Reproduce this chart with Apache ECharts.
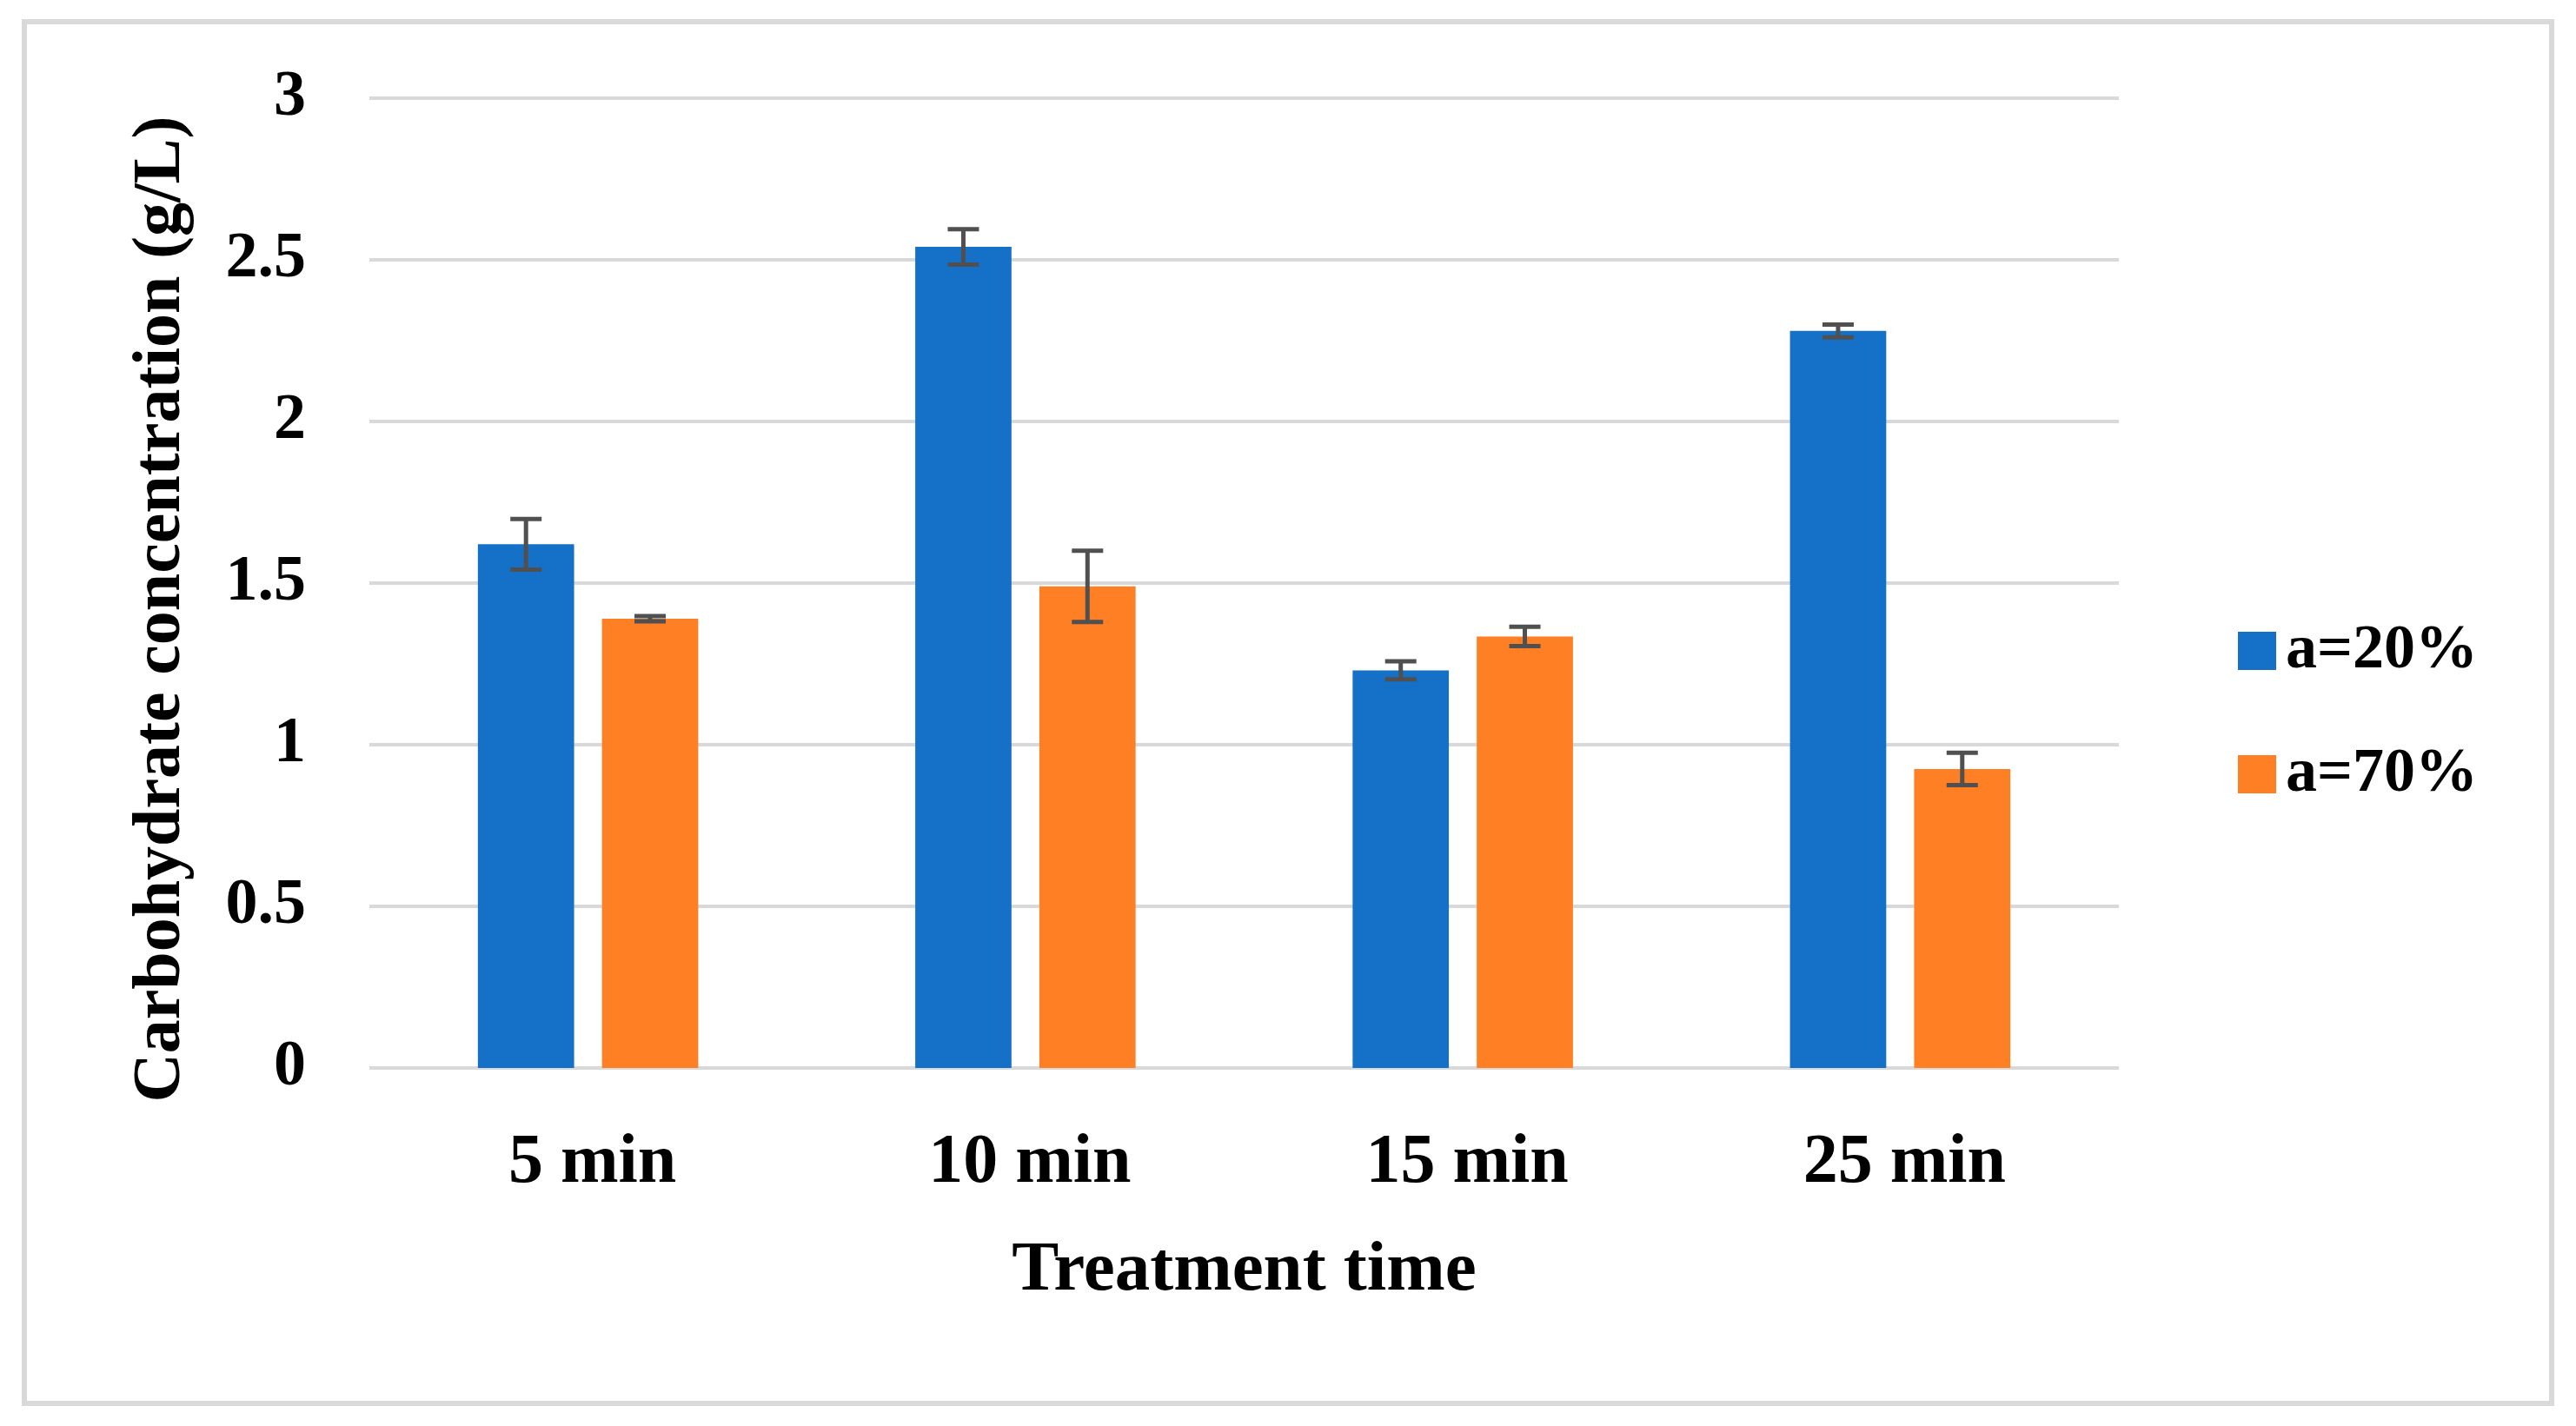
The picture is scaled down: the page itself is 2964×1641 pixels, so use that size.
<!DOCTYPE html>
<html>
<head>
<meta charset="utf-8">
<script src="https://cdn.jsdelivr.net/npm/echarts@6/dist/echarts.min.js"></script>
<style>
html,body{margin:0;padding:0;background:#fff;}
#chart{width:2964px;height:1641px;}
</style>
</head>
<body>
<div id="chart"></div>
<script>
var categories = ['5 min', '10 min', '15 min', '25 min'];
var seriesNames = ['a=20%', 'a=70%'];
var values20 = [1.62, 2.54, 1.23, 2.28];
var values70 = [1.39, 1.49, 1.335, 0.925];
var err20 = [0.078, 0.055, 0.028, 0.02];
var err70 = [0.008, 0.11, 0.03, 0.05];
var yTicks = [0, 0.5, 1, 1.5, 2, 2.5, 3];

var FONT = '"Liberation Serif", "DejaVu Serif", serif';
var BAR_W = 0.22, BAR_GAP = 0.29;
var colors = ['#1570C8', '#FE7F24'];

function errorSeries(vals, errs, idx) {
  var data = vals.map(function (v, i) { return [i, v, errs[i]]; });
  return {
    type: 'custom',
    name: seriesNames[idx] + ' error',
    z: 10,
    silent: true,
    data: data,
    renderItem: function (params, api) {
      var i = api.value(0), v = api.value(1), e = api.value(2);
      var band = api.size([1, 0])[0];
      var offset = band * BAR_W * (1 + BAR_GAP) / 2 * (idx === 0 ? -1 : 1);
      var top = api.coord([i, v + e]);
      var bot = api.coord([i, v - e]);
      var x = top[0] + offset;
      var hw = 18;
      var style = { stroke: '#505050', lineWidth: 5, fill: null };
      return {
        type: 'group',
        children: [
          { type: 'line', shape: { x1: x, y1: top[1], x2: x, y2: bot[1] }, style: style },
          { type: 'line', shape: { x1: x - hw, y1: top[1], x2: x + hw, y2: top[1] }, style: style },
          { type: 'line', shape: { x1: x - hw, y1: bot[1], x2: x + hw, y2: bot[1] }, style: style }
        ]
      };
    }
  };
}

var chart = echarts.init(document.getElementById('chart'));
chart.setOption({
  backgroundColor: '#fff',
  animation: false,
  graphic: [{
    type: 'rect',
    left: 25, top: 22,
    shape: { width: 2908, height: 1590 },
    style: { fill: 'none', stroke: '#d9d9d9', lineWidth: 6 },
    silent: true
  }],
  grid: { left: 425, right: 526, top: 113, bottom: 412 },
  legend: {
    orient: 'vertical',
    left: 2570,
    top: 708,
    itemWidth: 44,
    itemHeight: 44,
    itemGap: 70,
    icon: 'rect',
    data: seriesNames,
    textStyle: { fontFamily: FONT, fontWeight: 'bold', fontSize: 72, color: '#000', lineHeight: 72, padding: [0, 0, 0, 6] }
  },
  xAxis: {
    type: 'category',
    data: categories,
    name: 'Treatment time',
    nameLocation: 'middle',
    nameGap: 194,
    nameTextStyle: { fontFamily: FONT, fontWeight: 'bold', fontSize: 81, color: '#000' },
    axisLine: { show: false },
    axisTick: { show: false },
    axisLabel: { fontFamily: FONT, fontWeight: 'bold', fontSize: 80, color: '#000', margin: 70, padding: [0, 0, 0, 10] }
  },
  yAxis: {
    type: 'value',
    min: 0, max: 3, interval: 0.5,
    name: 'Carbohydrate concentration (g/L)',
    nameLocation: 'middle',
    nameGap: 200,
    nameTextStyle: { fontFamily: FONT, fontWeight: 'bold', fontSize: 78, color: '#000', padding: [0, 60, 0, 0] },
    axisLine: { show: false },
    axisTick: { show: false },
    splitLine: { lineStyle: { color: '#d9d9d9', width: 4 } },
    axisLabel: {
      fontFamily: FONT, fontWeight: 'bold', fontSize: 74, color: '#000', margin: 73,
      formatter: function (v) { return yTicks.indexOf(v) >= 0 ? String(v) : ''; }
    }
  },
  series: [
    { type: 'bar', name: seriesNames[0], data: values20, barWidth: (BAR_W * 100) + '%', barGap: (BAR_GAP * 100) + '%', itemStyle: { color: colors[0] } },
    { type: 'bar', name: seriesNames[1], data: values70, barWidth: (BAR_W * 100) + '%', barGap: (BAR_GAP * 100) + '%', itemStyle: { color: colors[1] } },
    errorSeries(values20, err20, 0),
    errorSeries(values70, err70, 1)
  ]
});
</script>
</body>
</html>
